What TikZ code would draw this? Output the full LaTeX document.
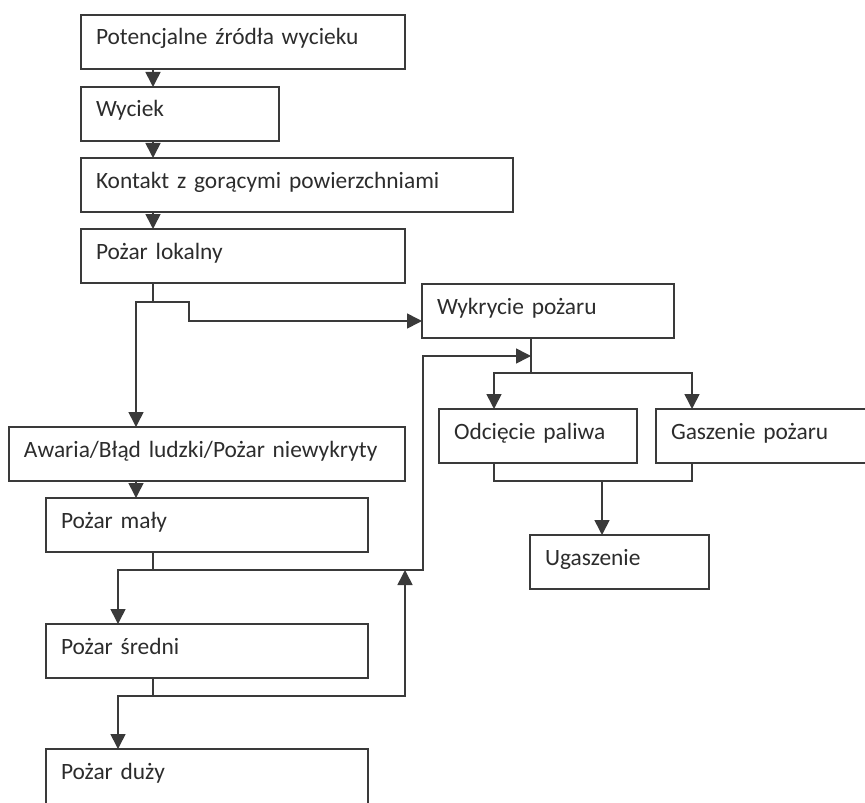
\documentclass[tikz,border=0pt]{standalone}
\usepackage{fontspec}
\setmainfont{Carlito}
\usepackage{tikz}
\usetikzlibrary{arrows.meta}
\definecolor{linegray}{HTML}{3A3A3A}
\definecolor{textgray}{HTML}{2C2C2C}
\tikzset{
  stagebox/.style={draw=linegray, line width=0.8pt, anchor=north west, outer sep=0pt,
    minimum height=27pt, inner xsep=7.5pt, text width={#1*0.5pt-15pt}, align=left,
    text height=7.5pt, text depth=4.5pt, text=textgray, font=\fontsize{11.7}{14}\selectfont},
  flow/.style={draw=linegray, line width=0.8pt},
  arr/.style={flow, -{Triangle[length=7.5pt,width=7.5pt]}}
}

\begin{document}
\begin{tikzpicture}[x=0.5pt,y=-0.5pt]
\useasboundingbox (0,0) rectangle (865,802);
\node[stagebox=324] (zrodla) at (81,15) {Potencjalne źródła wycieku};
\node[stagebox=198] (wyciek) at (81,87) {Wyciek};
\node[stagebox=432] (kontakt) at (81,158) {Kontakt z gorącymi powierzchniami};
\node[stagebox=324] (lokalny) at (81,229) {Pożar lokalny};
\node[stagebox=252] (wykrycie) at (422,284) {Wykrycie pożaru};
\node[stagebox=396] (awaria) at (9,427) {Awaria/Błąd ludzki/Pożar niewykryty};
\node[stagebox=322] (maly) at (46,498) {Pożar mały};
\node[stagebox=322] (sredni) at (46,624) {Pożar średni};
\node[stagebox=322, minimum height=30pt, text depth=7.5pt] (duzy) at (46,749) {Pożar duży};
\node[stagebox=198] (odciecie) at (439,409) {Odcięcie paliwa};
\node[stagebox=216] (gaszenie) at (656,409) {Gaszenie pożaru};
\node[stagebox=179] (ugaszenie) at (530,535) {Ugaszenie};

\coordinate (colA) at (153,0);
\coordinate (colB) at (136,0);
\coordinate (colD) at (118,0);
\coordinate (colE) at (405,0);
\coordinate (colF) at (423,0);
\coordinate (colH) at (494,0);
\coordinate (colI) at (692,0);
\coordinate (rowW) at (0,321);
\coordinate (rowR) at (0,356);
\coordinate (jLok) at (153,302);
\coordinate (bendR) at (189,302);
\coordinate (jWyk) at (531,373);
\coordinate (jMaly) at (153,570);
\coordinate (jSr) at (153,696);
\coordinate (jGas) at (602,481);

\draw[arr] (zrodla.south -| colA) -- (wyciek.north -| colA);
\draw[arr] (wyciek.south -| colA) -- (kontakt.north -| colA);
\draw[arr] (kontakt.south -| colA) -- (lokalny.north -| colA);
\draw[flow] (lokalny.south -| colA) -- (jLok);
\draw[arr] (jLok) -| (awaria.north -| colB);
\draw[arr] (jLok) -- (bendR) |- (wykrycie.west |- rowW);
\draw[arr] (awaria.south -| colB) -- (maly.north -| colB);
\draw[flow] (maly.south -| colA) -- (jMaly);
\draw[arr] (jMaly) -| (sredni.north -| colD);
\draw[arr] (jMaly) -| (colF |- rowR) -- (jWyk |- rowR);
\draw[flow] (sredni.south -| colA) -- (jSr);
\draw[arr] (jSr) -| (duzy.north -| colD);
\draw[arr] (jSr) -| (colE |- jMaly);
\draw[flow] (wykrycie.south -| jWyk) -- (jWyk);
\draw[arr] (jWyk) -| (odciecie.north -| colH);
\draw[arr] (jWyk) -| (gaszenie.north -| colI);
\draw[flow] (odciecie.south -| colH) |- (jGas) -| (gaszenie.south -| colI);
\draw[arr] (jGas) -- (ugaszenie.north -| jGas);
\end{tikzpicture}
\end{document}
